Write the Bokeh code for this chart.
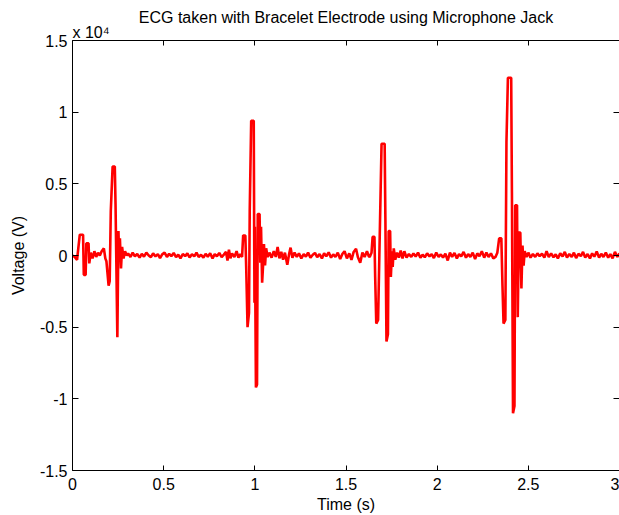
from bokeh.plotting import figure
from bokeh.models import LinearAxis, FixedTicker, CustomJSTickFormatter, Range1d, Title
from bokeh.embed import file_html
from bokeh.resources import INLINE

# ---- data ----
time_s = [
    0.000, 0.012, 0.025, 0.040, 0.058, 0.062, 0.072, 0.076, 0.088, 0.092,
    0.100, 0.110, 0.120, 0.130, 0.140, 0.150, 0.160, 0.172, 0.180, 0.186,
    0.198, 0.204, 0.210, 0.220, 0.232, 0.236, 0.246, 0.252, 0.256, 0.260,
    0.266, 0.272, 0.280, 0.288, 0.298,
    0.305, 0.318, 0.330, 0.342, 0.355, 0.368, 0.380, 0.392, 0.405, 0.418,
    0.430, 0.442, 0.455, 0.468, 0.480, 0.492, 0.505, 0.518, 0.530, 0.542,
    0.555, 0.568, 0.580, 0.592, 0.605, 0.618, 0.630, 0.642, 0.655, 0.668,
    0.680, 0.692, 0.705, 0.718, 0.730, 0.742, 0.755, 0.768, 0.780, 0.792,
    0.805, 0.818, 0.830, 0.842, 0.850, 0.858, 0.866, 0.875, 0.888, 0.900,
    0.910,
    0.920, 0.930, 0.936, 0.948, 0.953, 0.960, 0.968, 0.972, 0.980, 0.994,
    0.998, 1.000, 1.006, 1.012, 1.016, 1.026, 1.030, 1.034, 1.040, 1.046,
    1.050, 1.056, 1.062, 1.070, 1.080,
    1.092, 1.104, 1.115, 1.125, 1.135, 1.145, 1.155, 1.165, 1.178, 1.188,
    1.196, 1.206, 1.218, 1.230, 1.242, 1.255, 1.268, 1.280, 1.292, 1.305,
    1.318, 1.330, 1.342, 1.355, 1.368, 1.380, 1.392, 1.405, 1.418, 1.430,
    1.442, 1.455, 1.468, 1.480, 1.492, 1.505, 1.518, 1.530, 1.542, 1.555,
    1.565, 1.578, 1.590, 1.602, 1.615, 1.625,
    1.630, 1.640, 1.646, 1.656, 1.660, 1.666, 1.676, 1.686, 1.695, 1.712,
    1.716, 1.722, 1.730, 1.734, 1.742, 1.746, 1.752, 1.756, 1.762, 1.770,
    1.780,
    1.790, 1.800, 1.810, 1.820, 1.832, 1.845, 1.858, 1.870, 1.882, 1.895,
    1.908, 1.920, 1.932, 1.945, 1.958, 1.970, 1.982, 1.995, 2.008, 2.020,
    2.032, 2.045, 2.058, 2.070, 2.082, 2.095, 2.108, 2.120, 2.132, 2.145,
    2.158, 2.170, 2.182, 2.195, 2.208, 2.220, 2.232, 2.245, 2.258, 2.270,
    2.282, 2.295, 2.308,
    2.320, 2.330, 2.340, 2.352, 2.358, 2.364, 2.374, 2.380, 2.388, 2.406,
    2.410, 2.416, 2.424, 2.428, 2.438, 2.442, 2.448, 2.456, 2.462, 2.468,
    2.474, 2.480, 2.490,
    2.500, 2.512, 2.525, 2.538, 2.550, 2.562, 2.575, 2.588, 2.600, 2.612,
    2.625, 2.638, 2.650, 2.662, 2.675, 2.688, 2.700, 2.712, 2.725, 2.738,
    2.750, 2.762, 2.775, 2.788, 2.800, 2.812, 2.825, 2.838, 2.850, 2.862,
    2.875, 2.888, 2.900, 2.912, 2.925, 2.938, 2.950, 2.962, 2.975, 2.988,
    3.000,
]

voltage = [
    0, -100, -300, 1450, 1450, -1350, -1350, 850, 850, -550,
    200, -200, 300, -100, 200, 0, 300, 500, -200, -400,
    -2100, -1800, 3100, 6200, 6200, 3600, -5700, 1700, -300, 1200,
    -900, 600, -200, 300, 0,
    150, -100, 200, -50, 100, -150, 120, -80, 200, 0,
    -120, 150, -60, 100, -180, 80, 200, -100, 120, -50,
    180, -120, 60, -200, 100, -40, 150, -130, 80, -60,
    200, -100, 50, -150, 120, -80, 160, -200, 100, -50,
    180, -120, 60, 250, -350, 400, -200, 150, -100, 300,
    -150,
    100, -100, 1400, 1400, -1000, -5000, -4000, 3100, 9400, 9400,
    -3300, 2000, -9200, -9000, 2900, 2900, -500, 2000, -1900, -500,
    800, -700, 500, -100, 200,
    -150, 300, -100, 600, -200, 250, -300, 200, -650, 100,
    550, -150, 200, -100, 150, -200, 100, -80, 200, -150,
    50, 180, -120, 100, -200, 150, -50, 220, -150, 80,
    -100, 200, -250, 100, 300, -200, 150, -300, 250, 470,
    -100, -500, 200, -100, 300, -50,
    -100, 200, 1300, 1300, -1500, -4750, -4500, 2000, 7800, 7800,
    2600, -6000, -5500, 1700, 1700, -1500, 300, -800, 500, -300,
    200,
    -150, 350, -200, 300, -150, 100, -100, 150, -80, 200,
    -150, 60, -120, 150, -60, 100, -180, 200, -100, 80,
    -150, 120, -350, 200, -100, 180, -200, 100, -60, 250,
    -150, 100, -100, 200, -250, 150, -50, 300, -150, 200,
    -100, 150, -200,
    -100, 200, 1200, 1200, -2000, -4750, -4500, 7900, 12400, 12400,
    4400, -11000, -10500, 3500, 3500, -4300, 1600, 1600, -2300, 700,
    -700, 300, -100,
    200, -150, 100, -100, 150, -50, 120, -150, 300, -100,
    150, -120, 80, -200, 150, -60, 250, -150, 100, -100,
    200, -180, 120, -50, 250, -150, 100, -200, 150, -80,
    280, -150, 120, -100, 200, -150, 100, -200, 250, -100,
    150,
]

x_ticks = [0, 0.5, 1, 1.5, 2, 2.5, 3]
y_ticks = [-15000, -10000, -5000, 0, 5000, 10000, 15000]

title_text = "ECG taken with Bracelet Electrode using Microphone Jack"
scale_text = "x 10\u2074"
x_label = "Time (s)"
y_label = "Voltage (V)"

FONT = "Liberation Sans"

p = figure(width=619, height=515, output_backend="svg", toolbar_location=None,
           x_range=Range1d(0, 3), y_range=Range1d(-15000, 15000),
           min_border_left=72, min_border_right=0, min_border_top=40,
           min_border_bottom=44)
p.title = None

p.line(time_s, voltage, line_color="#ff0000", line_width=2.6)

p.grid.visible = False
p.background_fill_color = "white"
p.border_fill_color = "white"
p.outline_line_color = None

xfmt = CustomJSTickFormatter(code="return String(Math.round(tick*10)/10);")
yfmt = CustomJSTickFormatter(code="return String(Math.round(tick/1000)/10);")
blank = CustomJSTickFormatter(code="return '';")

def style_axis(ax, tick_len):
    ax.axis_line_color = "black"
    ax.axis_line_width = 1
    ax.major_tick_line_color = "black"
    ax.major_tick_in = tick_len
    ax.major_tick_out = 0
    ax.minor_tick_line_color = None
    ax.major_label_text_font = FONT
    ax.major_label_text_font_size = "16px"
    ax.major_label_text_color = "#000000"
    ax.axis_label_text_font = FONT
    ax.axis_label_text_font_size = "16px"
    ax.axis_label_text_font_style = "normal"
    ax.axis_label_text_color = "#000000"

xa = p.xaxis[0]
xa.ticker = FixedTicker(ticks=x_ticks)
xa.formatter = xfmt
style_axis(xa, 5)
xa.major_label_standoff = 7
xa.axis_label = x_label
xa.axis_label_standoff = 3

ya = p.yaxis[0]
ya.ticker = FixedTicker(ticks=y_ticks)
ya.formatter = yfmt
style_axis(ya, 6)
ya.major_label_standoff = 5
ya.axis_label = y_label
ya.axis_label_standoff = 10

top = LinearAxis(ticker=FixedTicker(ticks=x_ticks), formatter=blank)
style_axis(top, 5)
top.major_label_standoff = 0
p.add_layout(top, "above")

right = LinearAxis(ticker=FixedTicker(ticks=y_ticks), formatter=blank)
style_axis(right, 6)
right.major_label_standoff = 0
p.add_layout(right, "right")

p.add_layout(Title(text=scale_text, align="left", offset=0, standoff=0,
                   text_font=FONT, text_font_size="16px",
                   text_font_style="normal", text_color="#000000"), "above")
p.add_layout(Title(text=title_text, align="center", standoff=-9,
                   text_font=FONT, text_font_size="16px",
                   text_font_style="normal", text_color="#000000"), "above")

open("out.html", "w").write(file_html(p, INLINE))
